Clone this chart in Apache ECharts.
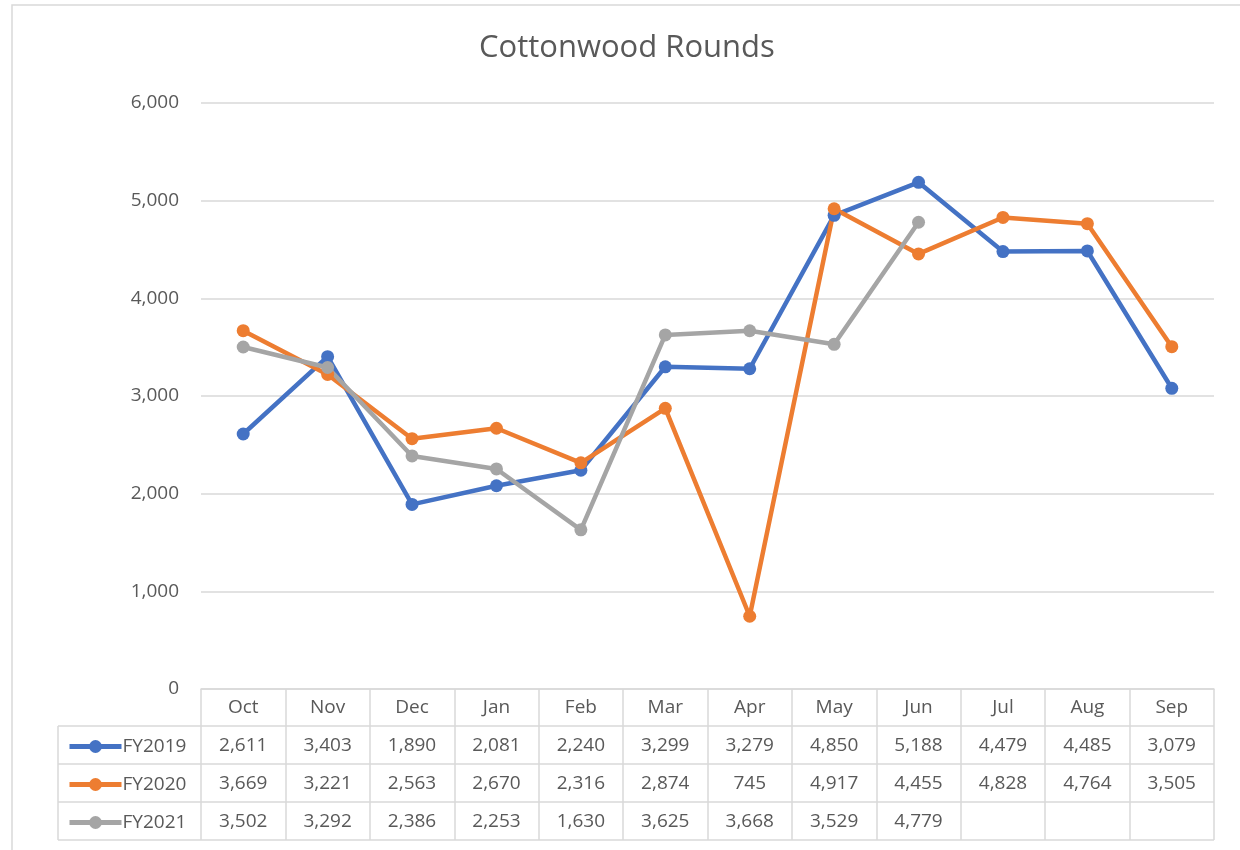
<!DOCTYPE html>
<html><head><meta charset="utf-8">
<script src="https://cdn.jsdelivr.net/npm/echarts@6/dist/echarts.min.js"></script>
<style>html,body{margin:0;padding:0;background:#fff}#c{width:1240px;height:850px}</style>
</head><body><div id="c"></div>
<script>
const months = ['Oct','Nov','Dec','Jan','Feb','Mar','Apr','May','Jun','Jul','Aug','Sep'];
const fy2019 = [2611,3403,1890,2081,2240,3299,3279,4850,5188,4479,4485,3079];
const fy2020 = [3669,3221,2563,2670,2316,2874,745,4917,4455,4828,4764,3505];
const fy2021 = [3502,3292,2386,2253,1630,3625,3668,3529,4779];
const seriesNames = ['FY2019','FY2020','FY2021'];
const colors = ['#4472C4','#ED7D31','#A5A5A5'];
const yMin = 0, yMax = 6000, yStep = 1000;

const FONT = '"Open Sans", sans-serif';
const TXT = '#595959';
const GRIDC = '#d9d9d9';
const gridLeft = 201, gridRight = 1214, gridTop = 103, gridBottomY = 689;
const headerH = 37, rowH = 38;

const fmt = v => (v === undefined || v === null) ? '' : v.toLocaleString('en-US');
const allSeries = [fy2019, fy2020, fy2021];

const chart = echarts.init(document.getElementById('c'), null, {renderer:'canvas'});
const tableBottom = gridBottomY + headerH + rowH * 3;
const graphics = [
  {type:'rect', shape:{x:12,y:5,width:1400,height:1000}, style:{fill:'none', stroke:GRIDC, lineWidth:1.5}, silent:true}
];
for (let k = 0; k <= 3; k++) {
  const y = gridBottomY + headerH + rowH * k;
  graphics.push({type:'line', shape:{x1:58, y1:y, x2:gridRight, y2:y}, style:{stroke:GRIDC, lineWidth:1.5}, silent:true});
}
graphics.push({type:'line', shape:{x1:58, y1:gridBottomY+headerH, x2:58, y2:tableBottom}, style:{stroke:GRIDC, lineWidth:1.5}, silent:true});

const legends = seriesNames.map((n, i) => ({
  orient:'horizontal', left:62, top:gridBottomY + headerH + rowH * i + rowH/2 - 13,
  itemWidth:52, itemHeight:16, itemGap:0,
  lineStyle:{width:5},
  textStyle:{fontFamily:FONT, fontSize:19, color:TXT, padding:[0,0,0,-4]}, data:[n]
}));

chart.setOption({
  animation:false,
  color: colors,
  title:{text:'Cottonwood Rounds', left:474, top:28, textStyle:{fontFamily:FONT, fontSize:31, fontWeight:'normal', color:TXT}},
  grid:{left:gridLeft, right:1240-gridRight, top:gridTop, bottom:850-gridBottomY, containLabel:false},
  legend: legends,
  xAxis:{type:'category', data:months, boundaryGap:true,
    axisLine:{show:true, lineStyle:{color:GRIDC, width:1.5}},
    axisTick:{show:true, interval:0, length:tableBottom-gridBottomY, lineStyle:{color:GRIDC, width:1.5}},
    axisLabel:{interval:0, margin:0, fontFamily:FONT, fontSize:19, color:TXT, lineHeight:rowH,
      formatter:(v, i) => [v, fmt(fy2019[i]), fmt(fy2020[i]), fmt(fy2021[i])].join('\n')}
  },
  yAxis:{type:'value', min:yMin, max:yMax, interval:yStep,
    axisLine:{show:false}, axisTick:{show:false},
    axisLabel:{fontFamily:FONT, fontSize:19, color:TXT, margin:22, formatter:v => fmt(v)},
    splitLine:{lineStyle:{color:GRIDC, width:1.5}}
  },
  series: allSeries.map((d, i) => ({
    name: seriesNames[i], type:'line', data:d, symbol:'circle', symbolSize:13,
    lineStyle:{width:4.5, color:colors[i]}, itemStyle:{color:colors[i]}
  })),
  graphic: graphics
});
</script></body></html>
